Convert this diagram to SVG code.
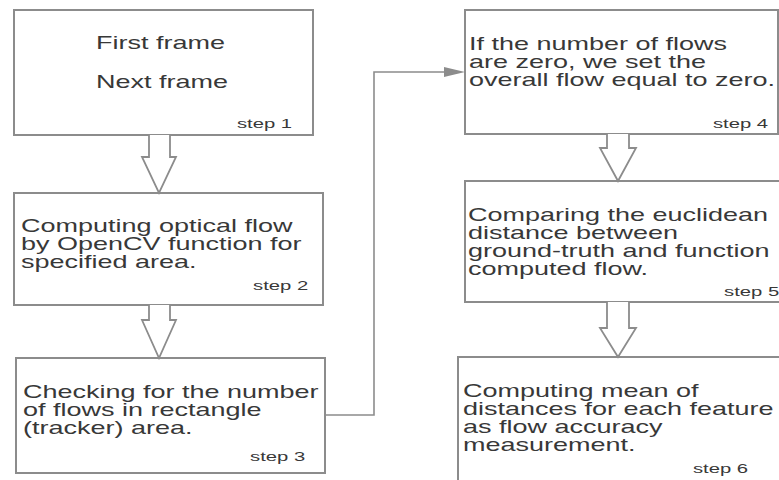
<svg xmlns="http://www.w3.org/2000/svg" width="779" height="480" viewBox="0 0 779 480">
<style>
.box{fill:#fff;stroke:#8c8c8c;stroke-width:2}
.blk{fill:#fff;stroke:#8c8c8c;stroke-width:1.8;stroke-linejoin:miter}
.t{font-family:"Liberation Sans",Arial,sans-serif;font-size:18px;fill:#383838}
.s{font-family:"Liberation Sans",Arial,sans-serif;font-size:13.5px;fill:#383838}
.conn{fill:none;stroke:#8c8c8c;stroke-width:1.6}
</style>
<rect width="779" height="480" fill="#fff"/>
<g id="step1">
<rect class="box" x="14" y="10" width="299" height="125"/>
<g transform="scale(1.5 1)">
<text class="t" x="64" y="49">First frame</text>
<text class="t" x="64" y="88">Next frame</text>
<text class="s" x="158" y="128">step 1</text>
</g>
</g>
<g id="step2">
<rect class="box" x="14" y="193" width="309" height="112"/>
<g transform="scale(1.5 1)">
<text class="t" x="14" y="232">Computing optical flow</text>
<text class="t" x="14" y="250">by OpenCV function for</text>
<text class="t" x="14" y="268">specified area.</text>
<text class="s" x="168.7" y="290">step 2</text>
</g>
</g>
<g id="step3">
<rect class="box" x="16" y="358" width="309" height="115"/>
<g transform="scale(1.5 1)">
<text class="t" x="15.3" y="398">Checking for the number</text>
<text class="t" x="15.3" y="416">of flows in rectangle</text>
<text class="t" x="15.3" y="434">(tracker) area.</text>
<text class="s" x="166.7" y="461">step 3</text>
</g>
</g>
<g id="step4">
<rect class="box" x="465" y="10" width="313" height="124"/>
<g transform="scale(1.5 1)">
<text class="t" x="312.7" y="50">If the number of flows</text>
<text class="t" x="312.7" y="68">are zero, we set the</text>
<text class="t" x="312.7" y="86">overall flow equal to zero.</text>
<text class="s" x="475.3" y="128">step 4</text>
</g>
</g>
<g id="step5">
<rect class="box" x="465" y="181" width="325" height="121"/>
<g transform="scale(1.5 1)">
<text class="t" x="312" y="221">Comparing the euclidean</text>
<text class="t" x="312" y="239">distance between</text>
<text class="t" x="312" y="257">ground-truth and function</text>
<text class="t" x="312" y="275">computed flow.</text>
<text class="s" x="482.7" y="296">step 5</text>
</g>
</g>
<g id="step6">
<rect class="box" x="458" y="357" width="335" height="135"/>
<g transform="scale(1.5 1)">
<text class="t" x="308.7" y="397">Computing mean of</text>
<text class="t" x="308.7" y="415">distances for each feature</text>
<text class="t" x="308.7" y="433">as flow accuracy</text>
<text class="t" x="308.7" y="451">measurement.</text>
<text class="s" x="462" y="473">step 6</text>
</g>
</g>
<g id="connectors">
<path class="blk" d="M149,135 V157 H142 L159,193 L176,157 H170 V135"/>
<path class="blk" d="M149,305 V320 H142 L159,358 L176,320 H170 V305"/>
<path class="blk" d="M607,134 V148 H600 L618,181 L636,148 H629 V134"/>
<path class="blk" d="M607,302 V328 H600 L618,357 L636,328 H629 V302"/>
<polyline class="conn" points="325,415 374,415 374,72 447,72"/>
<polygon points="444,67 465,72 444,77" fill="#8c8c8c"/>
</g>
</svg>
